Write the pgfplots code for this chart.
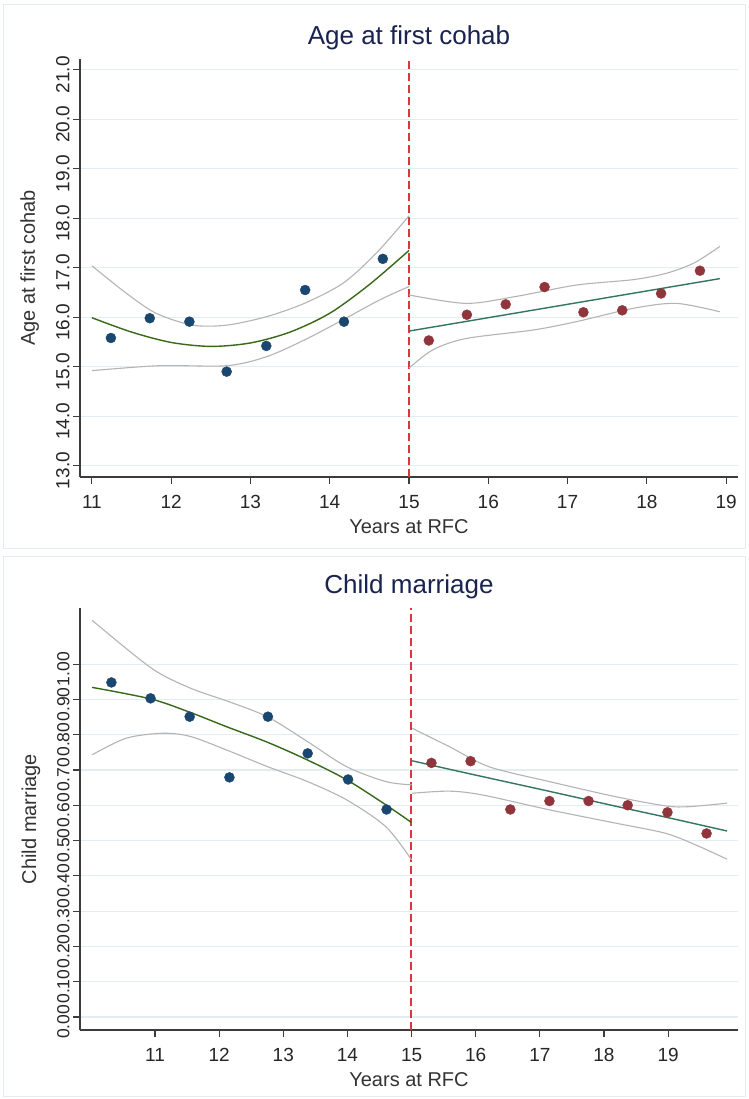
\documentclass[border=0pt]{standalone}
\usepackage{fontspec}
\setmainfont{Liberation Sans}
\usepackage{pgfplots}
\pgfplotsset{compat=1.18}
\definecolor{gridc}{RGB}{226,236,241}
\definecolor{framec}{RGB}{228,236,240}
\definecolor{navy}{RGB}{26,71,111}
\definecolor{maroon}{RGB}{144,53,59}
\definecolor{fitL}{RGB}{55,105,25}
\definecolor{fitR}{RGB}{50,118,95}
\definecolor{cig}{RGB}{180,180,180}
\definecolor{rline}{RGB}{215,55,65}
\definecolor{titlec}{RGB}{25,35,80}
\definecolor{axc}{RGB}{60,60,60}
\pgfplotsset{
 rd/.style={
  scale only axis, width=658pt,
  axis x line*=bottom, axis y line*=left,
  axis line style={axc, line width=1.3pt, -},
  ymajorgrids, grid style={gridc, line width=1.2pt},
  tick align=outside, major tick length=7pt, tick style={axc, line width=1.2pt},
  xtick={11,...,19},
  /pgf/number format/assume math mode=true,
  tick label style={font=\fontsize{19}{21}\selectfont, color=black!85},
  x tick label style={yshift=-8pt},
  label style={font=\fontsize{20}{22}\selectfont, color=black!80},
  xlabel style={yshift=-4pt},
  ylabel style={yshift=10pt},
  title style={font=\fontsize{26}{30}\selectfont, color=titlec},
  y tick label style={rotate=90, anchor=south, xshift=-5pt},
  xlabel={Years at RFC},
  mk/.style={only marks, mark=*, mark size=5pt},
 }
}
\begin{document}
\begin{tikzpicture}
\useasboundingbox[fill=white] (0,0) rectangle (748pt,-1099pt);
\draw[framec, line width=1pt] (3pt,-5pt) rectangle (745pt,-548pt);
\draw[framec, line width=1pt] (3pt,-556pt) rectangle (745pt,-1096pt);
% ---------- top panel
\begin{axis}[rd, at={(80pt,-477pt)}, anchor=south west, height=418pt,
  xmin=10.85, xmax=19.15, ymin=12.77, ymax=21.22,
  ytick={13,14,...,21},
  yticklabel style={/pgf/number format/.cd, fixed, fixed zerofill, precision=1},
  title={Age at first cohab}, ylabel={Age at first cohab}]
\addplot[rline, line width=1.5pt, dash pattern=on 8pt off 4pt, forget plot] coordinates {(15,12.77)(15,21.22)};
\addplot[cig, line width=1.1pt, smooth] coordinates {(11,17.04)(11.43,16.49)(11.81,16.08)(12.27,15.84)(12.70,15.84)(13.20,16.01)(13.68,16.28)(14.17,16.69)(14.59,17.30)(15,18.05)};
\addplot[cig, line width=1.1pt, smooth] coordinates {(11,14.92)(11.85,15.02)(12.70,15.02)(13.20,15.20)(13.68,15.54)(14.17,15.95)(14.63,16.35)(15,16.62)};
\addplot[cig, line width=1.1pt, smooth] coordinates {(15,16.45)(15.72,16.28)(16.35,16.42)(17.11,16.65)(17.83,16.76)(18.25,16.89)(18.60,17.10)(18.92,17.43)};
\addplot[cig, line width=1.1pt, smooth] coordinates {(15,14.97)(15.30,15.34)(15.72,15.57)(16.56,15.74)(17.11,15.91)(17.83,16.18)(18.37,16.28)(18.92,16.11)};
\addplot[fitL, line width=1.4pt, smooth] coordinates {(11,15.99)(11.5,15.70)(12,15.49)(12.5,15.41)(13,15.48)(13.5,15.70)(14,16.08)(14.5,16.66)(15,17.35)};
\addplot[fitR, line width=1.4pt] coordinates {(15,15.72)(18.92,16.78)};
\addplot[mk, navy] coordinates {(11.24,15.58)(11.73,15.98)(12.23,15.91)(12.70,14.90)(13.20,15.42)(13.69,16.55)(14.18,15.91)(14.67,17.18)};
\addplot[mk, maroon] coordinates {(15.25,15.53)(15.73,16.05)(16.22,16.26)(16.71,16.61)(17.20,16.10)(17.69,16.14)(18.18,16.48)(18.67,16.94)};
\end{axis}
% ---------- bottom panel
\begin{axis}[rd, at={(80pt,-1030pt)}, anchor=south west, height=422pt,
  xmin=9.83, xmax=20.09, ymin=-0.037, ymax=1.159,
  ytick={0,0.1,0.2,0.3,0.4,0.5,0.6,0.7,0.8,0.9,1},
  yticklabel style={font=\fontsize{17.5}{19}\selectfont, /pgf/number format/.cd, fixed, fixed zerofill, precision=2},
  title={Child marriage}, ylabel={Child marriage}]
\addplot[rline, line width=2pt, dash pattern=on 8pt off 4pt, forget plot] coordinates {(14.995,-0.037)(14.995,1.159)};
\addplot[cig, line width=1.1pt, smooth] coordinates {(10.02,1.124)(10.94,0.989)(11.55,0.932)(12.16,0.893)(12.76,0.850)(13.38,0.780)(13.99,0.709)(14.60,0.667)(15,0.658)};
\addplot[cig, line width=1.1pt, smooth] coordinates {(10.02,0.743)(10.55,0.790)(11.12,0.804)(11.55,0.795)(12.11,0.757)(12.76,0.709)(13.38,0.667)(13.99,0.615)(14.60,0.539)(15,0.445)};
\addplot[cig, line width=1.1pt, smooth] coordinates {(15.01,0.818)(15.59,0.766)(16.21,0.709)(17.15,0.667)(18.19,0.624)(18.97,0.598)(19.33,0.596)(19.92,0.606)};
\addplot[cig, line width=1.1pt, smooth] coordinates {(15.01,0.634)(15.59,0.640)(16.11,0.629)(17.15,0.587)(18.19,0.549)(18.97,0.520)(19.5,0.482)(19.92,0.447)};
\addplot[fitL, line width=1.4pt, smooth] coordinates {(10.02,0.934)(10.94,0.901)(11.55,0.863)(12.11,0.823)(12.76,0.778)(13.38,0.728)(13.99,0.672)(14.60,0.601)(15,0.551)};
\addplot[fitR, line width=1.4pt, smooth] coordinates {(15.01,0.726)(15.59,0.702)(16.21,0.677)(17.16,0.639)(18.19,0.597)(18.97,0.566)(19.92,0.527)};
\addplot[mk, navy] coordinates {(10.32,0.948)(10.93,0.903)(11.54,0.851)(12.16,0.679)(12.76,0.851)(13.38,0.747)(14.01,0.673)(14.61,0.588)};
\addplot[mk, maroon] coordinates {(15.31,0.720)(15.92,0.725)(16.54,0.588)(17.15,0.612)(17.76,0.612)(18.37,0.600)(18.99,0.580)(19.60,0.520)};
\end{axis}
\end{tikzpicture}
\end{document}
